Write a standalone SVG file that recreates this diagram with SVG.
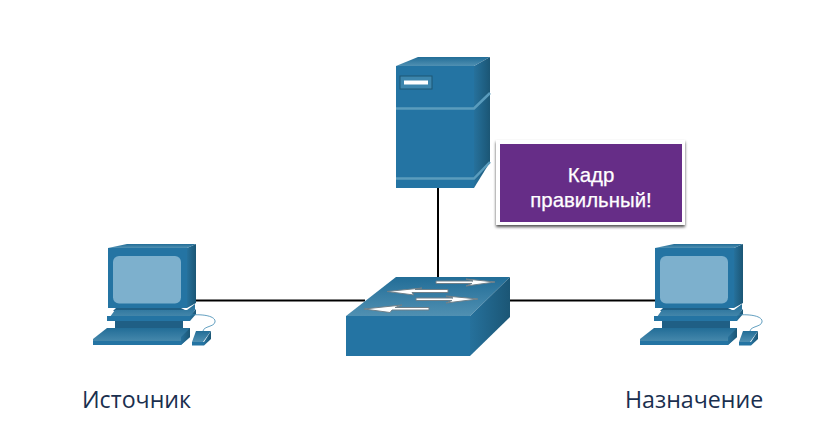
<svg xmlns="http://www.w3.org/2000/svg" width="835" height="439" viewBox="0 0 835 439">
<style>
text{font-family:"Liberation Sans",Arial,sans-serif}
.lbl{font-family:"Open Sans","Noto Sans",sans-serif;font-size:23.2px;fill:#1a2f4f}
.cal{font-size:20.4px;fill:#fff;stroke:#fff;stroke-width:.25;text-anchor:middle}
.f{fill:#2474a3}.s{fill:url(#side)}.t{fill:url(#top)}
.d{fill:#1f5f85}.hl{stroke:#5a9cbd;stroke-width:2.500;fill:none}
.ln{stroke:#000;stroke-width:2;fill:none}
.ar{fill:#fff;stroke:#6f7f88;stroke-width:1}
</style>
<defs>
<linearGradient id="side" x1="0" x2="1" y1="0" y2="0"><stop offset="0" stop-color="#26719c"/><stop offset="1" stop-color="#1b5675"/></linearGradient>
<linearGradient id="top" x1="0" x2="0" y1="0" y2="1"><stop offset="0" stop-color="#226d97"/><stop offset="1" stop-color="#5090b2"/></linearGradient>
<filter id="sh" x="-5%" y="-5%" width="110%" height="115%"><feDropShadow dx="0" dy="2" stdDeviation="1.5" flood-color="#000" flood-opacity=".7"/></filter>
<g id="pc">
<path class="t" d="M108 248L127 244H196L187 248Z"/>
<path class="s" d="M187 248L196 244V303L187 308Z"/>
<rect class="f" x="108" y="248" width="79" height="60"/>
<rect x="113" y="256" width="68" height="47.500" rx="6" fill="#7db0cd"/>
<path class="d" d="M116 308H181L187 311H113Z"/>
<path class="t" d="M113 310H187L195 304V310L190 317V321H107L115 310Z"/>
<path class="f" d="M107 316H190V321H107Z"/>
<path class="s" d="M190 316L196 309V314L190 321Z"/>
<rect class="d" x="115" y="321" width="68" height="7"/>
<path class="t" d="M107 328H190V337L181 345H93V339Z"/>
<path class="f" d="M93 341H181V345H93Z"/>
<path class="s" d="M181 337L190 328V337L181 345Z"/>
<path d="M191 315C203 314 216 316 215 322C214 327 204 326 203 331" fill="none" stroke="#3a87b0" stroke-width=".8"/>
<path class="t" d="M196 331H211L203 342H192Z"/>
<rect class="f" x="192" y="342" width="12" height="3.500"/>
<path class="s" d="M204 342L211 331V339L204 345.500Z"/>
</g>
</defs>
<g id="connectors">
<path class="ln" d="M195 300.500H365"/>
<path class="ln" d="M495 300.500H655"/>
<path class="ln" d="M438 187V285"/>
</g>
<g id="server">
<path class="t" d="M396 66L418 57H490L474 66Z"/>
<path class="s" d="M474 66L490 57V162L474 188Z"/>
<rect class="f" x="396" y="66" width="78" height="122"/>
<path class="hl" d="M396 108.500H474L490 93"/>
<path class="hl" d="M396 178.500H474L490 162"/>
<rect x="400" y="76" width="32" height="13" fill="#3d86ad" stroke="#1c5675" stroke-width="1"/>
<rect x="404" y="80.500" width="24" height="4" fill="#fff"/>
</g>
<g id="switch">
<path class="t" d="M346 316L396 277H510L470 316Z"/>
<path class="s" d="M470 316L510 277V317L470 356Z"/>
<rect class="f" x="346" y="316" width="124" height="40"/>
<path class="ar" d="M436 281H473L466 279L495 282L466 286L472 283.500H436Z"/>
<path class="ar" d="M448 289.500H415L422 288L387 291.500L414 295L412 292.500H448Z"/>
<path class="ar" d="M416 298H453L446 296L478 299L446 303L452 300.500H416Z"/>
<path class="ar" d="M429 307.500H395L402 305L364 309L390 312.500L392 310H429Z"/>
</g>
<g id="source">
<use href="#pc"/>
<text class="lbl" x="82" y="408">Источник</text>
</g>
<g id="destination">
<use href="#pc" x="547"/>
<text class="lbl" x="625" y="408">Назначение</text>
</g>
<g id="callout">
<rect x="496" y="140" width="189" height="85" fill="#fff" filter="url(#sh)"/>
<rect x="500" y="144" width="182" height="78" fill="#662d87"/>
<text class="cal" x="591" y="182">Кадр</text>
<text class="cal" x="591" y="207">правильный!</text>
</g>
</svg>
